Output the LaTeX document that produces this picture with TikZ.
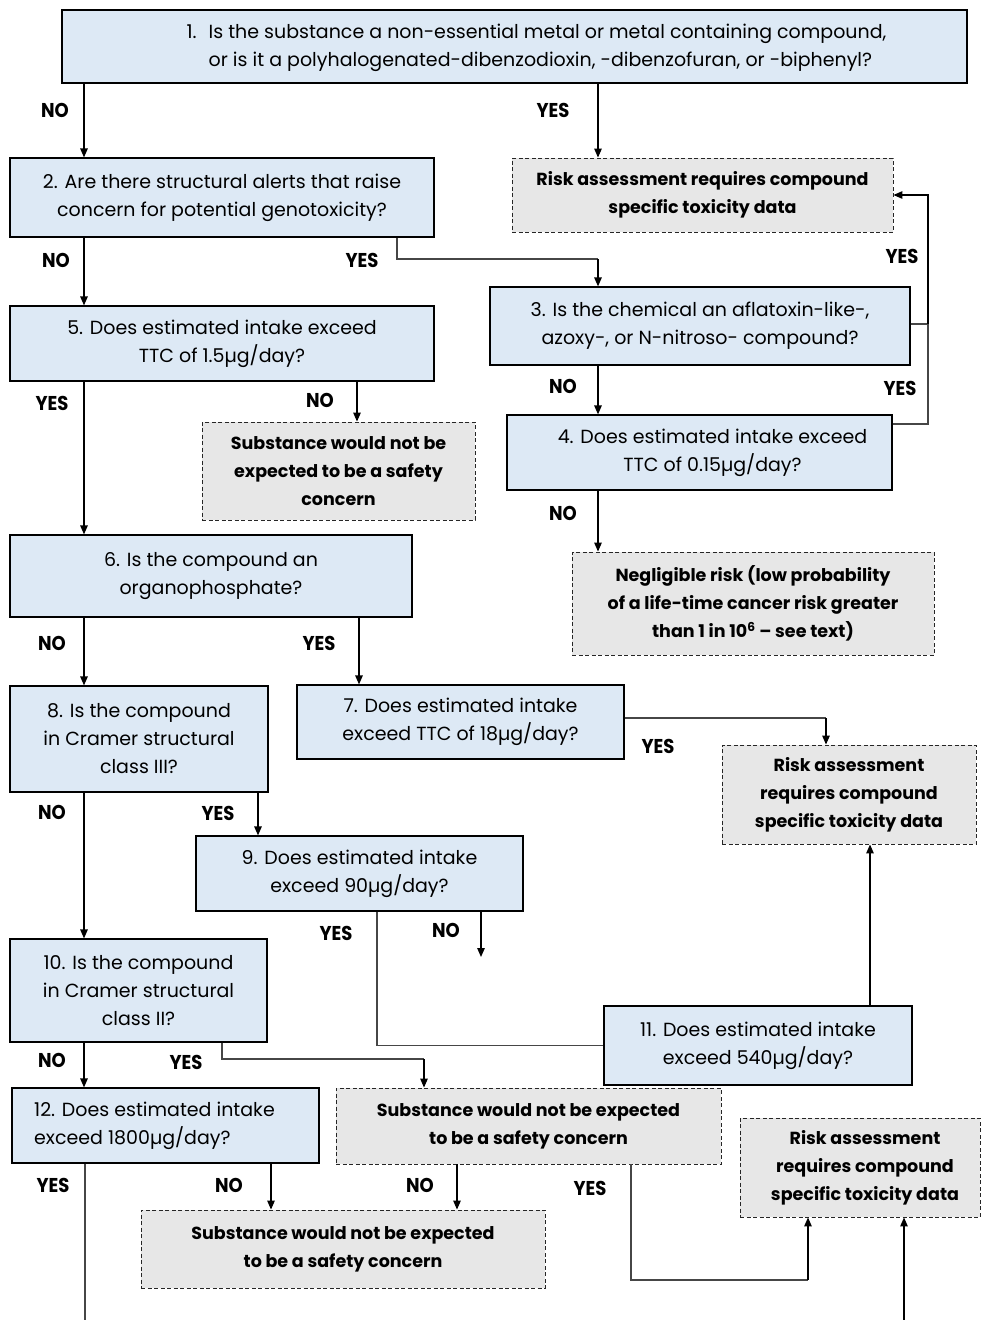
\documentclass[tikz,border=0pt]{standalone}
\usepackage{fontspec}
\setmainfont{Poppins}
\newfontfamily\boldcond{Poppins}
\newfontfamily\tagfont{Poppins}[FakeStretch=0.9]
\usetikzlibrary{arrows.meta}

\definecolor{qblue}{RGB}{221,233,245}
\definecolor{ggray}{RGB}{231,231,231}
\definecolor{lgray}{RGB}{70,70,70}

\tikzset{
  qbox/.style={draw=black, line width=1.2pt, fill=qblue, inner sep=0pt,
    align=center, font=\fontsize{19}{28}\selectfont},
  gbox/.style={draw=black!85, line width=0.9pt, dash pattern=on 4pt off 2.5pt,
    fill=ggray, inner sep=0pt, align=center,
    font=\boldcond\bfseries\fontsize{17.5}{28}\selectfont},
  tag/.style={font=\tagfont\bfseries\fontsize{20}{20}\selectfont, inner sep=0pt},
  arr/.style={line width=1.3pt, draw=black, -{Triangle[length=9pt,width=7.5pt]}},
  link/.style={line width=1.3pt, draw=lgray},
}

\begin{document}
\begin{tikzpicture}[x=1pt, y=-1pt]
\useasboundingbox (0,0) rectangle (984,1320);

% ---------- question boxes ----------
\node[qbox, minimum width=905pt, minimum height=73pt] (b1) at (514.5,46.5)
  {\hspace*{44pt}\begin{tabular}{@{}l@{\hspace{12pt}}l@{}}
    1. & Is the substance a non-essential metal or metal containing compound,\\
       & or is it a polyhalogenated-dibenzodioxin, -dibenzofuran, or -biphenyl?
   \end{tabular}};
\node[qbox, minimum width=424pt, minimum height=79pt] (b2) at (222,197.5)
  {2. Are there structural alerts that raise\\concern for potential genotoxicity?};
\node[qbox, minimum width=420pt, minimum height=78pt] (b3) at (700,326)
  {3. Is the chemical an aflatoxin-like-,\\azoxy-, or N-nitroso- compound?};
\node[qbox, minimum width=385pt, minimum height=75pt] (b4) at (699.5,452.5)
  {\hspace*{26pt}4. Does estimated intake exceed\\\hspace*{26pt}TTC of 0.15µg/day?};
\node[qbox, minimum width=424pt, minimum height=75pt] (b5) at (222,343.5)
  {5. Does estimated intake exceed\\TTC of 1.5µg/day?};
\node[qbox, minimum width=402pt, minimum height=82pt] (b6) at (211,576)
  {6. Is the compound an\\organophosphate?};
\node[qbox, minimum width=327pt, minimum height=74pt] (b7) at (460.5,722)
  {7. Does estimated intake\\exceed TTC of 18µg/day?};
\node[qbox, minimum width=258pt, minimum height=106pt] (b8) at (139,739)
  {8. Is the compound\\in Cramer structural\\class III?};
\node[qbox, minimum width=327pt, minimum height=75pt] (b9) at (359.5,873.5)
  {9. Does estimated intake\\exceed 90µg/day?};
\node[qbox, minimum width=257pt, minimum height=103pt] (b10) at (138.5,990.5)
  {10. Is the compound\\in Cramer structural\\class II?};
\node[qbox, minimum width=308pt, minimum height=79pt] (b11) at (758,1045.5)
  {11. Does estimated intake\\exceed 540µg/day?};
\node[qbox, minimum width=307pt, minimum height=75pt, align=left] (b12) at (165.5,1125.5)
  {12. Does estimated intake\hspace*{22pt}\\exceed 1800µg/day?};

% ---------- outcome boxes ----------
\node[gbox, minimum width=381pt, minimum height=74pt] (r1) at (702.5,195)
  {Risk assessment requires compound\\specific toxicity data};
\node[gbox, minimum width=362pt, minimum height=103pt] (neg) at (753,603.5)
  {Negligible risk (low probability\\of a life-time cancer risk greater\\than 1 in 10\textsuperscript{6} – see text)};
\node[gbox, minimum width=273pt, minimum height=98pt] (s1) at (338.5,471)
  {Substance would not be\\expected to be a safety\\concern};
\node[gbox, minimum width=254pt, minimum height=99pt] (r2) at (849,794.5)
  {Risk assessment\\requires compound\\specific toxicity data};
\node[gbox, minimum width=385pt, minimum height=76pt] (s2) at (528.5,1126)
  {Substance would not be expected\\to be a safety concern};
\node[gbox, minimum width=240pt, minimum height=99pt] (r3) at (860,1167.5)
  {\hspace*{10pt}Risk assessment\\\hspace*{10pt}requires compound\\\hspace*{10pt}specific toxicity data};
\node[gbox, minimum width=404pt, minimum height=78pt] (s3) at (343,1249)
  {Substance would not be expected\\to be a safety concern};

% ---------- connector columns and bends ----------
\coordinate (x84) at (84,0);
\coordinate (x598) at (598,0);
\coordinate (x397) at (397,0);
\coordinate (x357) at (357,0);
\coordinate (x359) at (359,0);
\coordinate (x258) at (258,0);
\coordinate (x377) at (377,0);
\coordinate (x870) at (870,0);
\coordinate (x222) at (222,0);
\coordinate (x271) at (271,0);
\coordinate (x457) at (457,0);
\coordinate (x631) at (631,0);
\coordinate (j2) at (598,259);
\coordinate (j3) at (928,324);
\coordinate (j4) at (928,424);
\coordinate (j7) at (826,718);
\coordinate (j10) at (424,1059);
\coordinate (js2) at (808,1280);
\coordinate (e9) at (481,957);
\coordinate (e12) at (85,1320);
\coordinate (e13) at (904,1320);

% ---------- connectors ----------
\draw[arr] (b1.south -| x84) -- (b2.north -| x84);
\draw[arr] (b1.south -| x598) -- (r1.north -| x598);
\draw[arr] (b2.south -| x84) -- (b5.north -| x84);
\draw[link] (b2.south -| x397) |- (j2);
\draw[arr] (j2) -- (b3.north -| j2);
\draw[link] (b3.east |- j3) -- (j3);
\draw[link] (b4.east |- j4) -- (j4) -- (j3);
\draw[arr] (j3) |- (r1.east);
\draw[arr] (b3.south -| x598) -- (b4.north -| x598);
\draw[arr] (b4.south -| x598) -- (neg.north -| x598);
\draw[arr] (b5.south -| x84) -- (b6.north -| x84);
\draw[arr] (b5.south -| x357) -- (s1.north -| x357);
\draw[arr] (b6.south -| x84) -- (b8.north -| x84);
\draw[arr] (b6.south -| x359) -- (b7.north -| x359);
\draw[link] (b7.east |- j7) -- (j7);
\draw[arr] (j7) -- (r2.north -| j7);
\draw[arr] (b8.south -| x84) -- (b10.north -| x84);
\draw[arr] (b8.south -| x258) -- (b9.north -| x258);
\draw[arr] (b9.south -| e9) -- (e9);
\draw[link] (b9.south -| x377) |- (b11.west);
\draw[arr] (b11.north -| x870) -- (r2.south -| x870);
\draw[arr] (b10.south -| x84) -- (b12.north -| x84);
\draw[link] (b10.south -| x222) |- (j10);
\draw[arr] (j10) -- (s2.north -| j10);
\draw[link] (b12.south -| e12) -- (e12);
\draw[arr] (b12.south -| x271) -- (s3.north -| x271);
\draw[arr] (s2.south -| x457) -- (s3.north -| x457);
\draw[link] (s2.south -| x631) |- (js2);
\draw[arr] (js2) -- (r3.south -| js2);
\draw[arr] (e13) -- (r3.south -| e13);

% ---------- branch labels ----------
\node[tag] (t1) at (55,110) {NO};
\node[tag] (t2) at (553,110) {YES};
\node[tag] (t3) at (56,260) {NO};
\node[tag] (t4) at (362,260) {YES};
\node[tag] (t5) at (902,256) {YES};
\node[tag] (t6) at (563,386) {NO};
\node[tag] (t7) at (900,388) {YES};
\node[tag] (t8) at (563,513) {NO};
\node[tag] (t9) at (52,403) {YES};
\node[tag] (t10) at (320,400) {NO};
\node[tag] (t11) at (52,643) {NO};
\node[tag] (t12) at (319,643) {YES};
\node[tag] (t13) at (658,746) {YES};
\node[tag] (t14) at (52,812) {NO};
\node[tag] (t15) at (218,813) {YES};
\node[tag] (t16) at (336,933) {YES};
\node[tag] (t17) at (446,930) {NO};
\node[tag] (t18) at (52,1060) {NO};
\node[tag] (t19) at (186,1062) {YES};
\node[tag] (t20) at (53,1185) {YES};
\node[tag] (t21) at (229,1185) {NO};
\node[tag] (t22) at (420,1185) {NO};
\node[tag] (t23) at (590,1188) {YES};
\end{tikzpicture}
\end{document}
